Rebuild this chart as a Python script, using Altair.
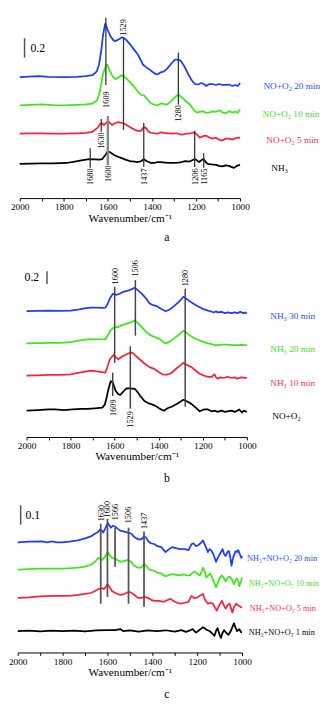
import altair as alt
import pandas as pd

FONT = "Liberation Serif"
BLUE, GREEN, RED, BLACK = "#1f3cff", "#3de81a", "#ff1f3c", "#000000"
LBLUE, LGREEN, LRED = "#2a4bff", "#3be01f", "#ff2b4a"
TICKS = list(range(1000, 2001, 100))

# ---------------- panel a (relative absorbance, wavenumber) ----------------
A_BLUE = [(2000, 0), (1960, 0.005), (1913, 0.01), (1870, 0.003), (1800, 0), (1740, 0.003), (1700, 0.01),
          (1670, 0.02), (1650, 0.06), (1640, 0.13), (1630, 0.27), (1622, 0.43), (1612, 0.55), (1600, 0.48),
          (1588, 0.42), (1575, 0.38), (1566, 0.37), (1550, 0.39), (1534, 0.41), (1520, 0.39), (1500, 0.34),
          (1480, 0.28), (1463, 0.23), (1441, 0.13), (1425, 0.10), (1412, 0.08), (1395, 0.05), (1382, 0.03),
          (1370, 0.035), (1360, 0.05), (1345, 0.06), (1330, 0.09), (1308, 0.15), (1295, 0.18), (1283, 0.18),
          (1270, 0.17), (1255, 0.12), (1235, 0.03), (1220, -0.03), (1205, -0.07), (1190, -0.075), (1176, -0.06),
          (1165, -0.07), (1153, -0.09), (1140, -0.07), (1124, -0.07), (1110, -0.08), (1094, -0.07), (1080, -0.08),
          (1065, -0.08), (1050, -0.075), (1035, -0.09), (1020, -0.08), (1010, -0.09), (1000, -0.06)]
A_GREEN = [(2000, 0), (1950, 0.005), (1900, 0.01), (1850, 0.003), (1800, 0), (1740, 0.005), (1700, 0.01),
           (1670, 0.02), (1650, 0.05), (1640, 0.11), (1630, 0.22), (1622, 0.32), (1610, 0.40), (1603, 0.42),
           (1592, 0.36), (1581, 0.31), (1566, 0.27), (1550, 0.29), (1537, 0.31), (1522, 0.29), (1500, 0.24),
           (1480, 0.19), (1463, 0.14), (1450, 0.11), (1434, 0.10), (1420, 0.06), (1404, 0.02), (1390, 0.01),
           (1375, 0.0), (1360, 0.02), (1353, 0.02), (1340, 0.01), (1331, 0.01), (1315, 0.04), (1301, 0.07),
           (1288, 0.10), (1279, 0.11), (1268, 0.09), (1257, 0.07), (1240, 0.03), (1227, 0.01), (1212, -0.04),
           (1198, -0.07), (1183, -0.065), (1168, -0.06), (1155, -0.075), (1139, -0.07), (1125, -0.06),
           (1110, -0.065), (1094, -0.05), (1080, -0.07), (1065, -0.08), (1050, -0.06), (1035, -0.07),
           (1020, -0.065), (1010, -0.075), (1000, -0.04)]
A_RED = [(2000, 0), (1950, 0.003), (1900, 0.005), (1850, 0), (1800, 0), (1740, 0.005), (1700, 0.01), (1670, 0.02),
         (1647, 0.06), (1635, 0.10), (1628, 0.11), (1618, 0.09), (1608, 0.11), (1599, 0.13), (1590, 0.11),
         (1581, 0.09), (1566, 0.11), (1552, 0.12), (1535, 0.11), (1522, 0.10), (1508, 0.08), (1493, 0.06),
         (1478, 0.04), (1463, 0.03), (1448, 0.03), (1437, 0.07), (1428, 0.06), (1415, 0.02), (1404, 0.01),
         (1390, 0.005), (1375, 0.0), (1360, 0.015), (1345, 0.01), (1325, 0.005), (1308, 0.0), (1290, 0.005),
         (1275, -0.005), (1264, -0.01), (1245, 0.0), (1225, 0.005), (1209, 0.015), (1195, -0.01), (1183, -0.04),
         (1168, -0.025), (1153, -0.02), (1138, -0.04), (1124, -0.05), (1110, -0.04), (1095, -0.06), (1080, -0.07),
         (1065, -0.05), (1050, -0.05), (1035, -0.06), (1020, -0.045), (1000, -0.04)]
A_BLACK = [(2000, 0), (1950, 0.003), (1900, 0.005), (1850, 0.005), (1788, 0.01), (1750, 0.025), (1714, 0.04),
           (1684, 0.05), (1660, 0.048), (1640, 0.045), (1625, 0.05), (1612, 0.09), (1600, 0.13), (1590, 0.12),
           (1570, 0.09), (1550, 0.07), (1537, 0.06), (1520, 0.045), (1500, 0.03), (1480, 0.025), (1463, 0.02),
           (1448, 0.03), (1437, 0.05), (1425, 0.03), (1404, 0.01), (1390, 0.01), (1375, 0.02), (1360, 0.02),
           (1340, 0.015), (1320, 0.01), (1301, 0.01), (1280, 0.015), (1265, 0.02), (1249, 0.03), (1230, 0.025),
           (1215, 0.04), (1206, 0.05), (1195, 0.035), (1186, 0.02), (1175, 0.04), (1166, 0.05), (1156, 0.02),
           (1146, 0.0), (1130, -0.005), (1109, -0.01), (1095, -0.02), (1080, -0.025), (1065, -0.015),
           (1050, -0.02), (1040, -0.03), (1028, -0.04), (1015, -0.02), (1000, -0.01)]
A_OFFSETS = [1.24, 0.95, 0.66, 0.35]
A_NAMES = ["NO+O₂ 20 min", "NO+O₂ 10 min", "NO+O₂ 5 min", "NH₃"]
A_NAME_X = [894, 898, 881, 858]
A_NAME_Y = [1.15, 0.86, 0.59, 0.31]
A_PEAKS = ["1609", "1529", "1280", "1630", "1600", "1680", "1437", "1206", "1165"]
A_PEAK_TOP = [1.85, 1.64, 1.49, 0.81, 0.84, 0.51, 0.77, 0.69, 0.46]
A_PEAK_BOTTOM = [1.16, 0.70, 0.96, 0.68, 0.34, 0.31, 0.32, 0.32, 0.31]
A_PEAK_LABEL_Y = [1.01, 1.75, 0.87, 0.59, 0.25, 0.22, 0.22, 0.22, 0.22]
A_PEAK_W = [1.3, 1.3, 1.3, 1.3, 2.5, 1.3, 1.3, 1.3, 1.3]
A_PEAK_C = ["#333333", "#333333", "#333333", "#333333", "#888888", "#333333", "#333333", "#333333", "#333333"]

# ---------------- panel b ----------------
B_BLUE = [(2000, 0), (1950, 0.005), (1900, 0.01), (1850, 0.005), (1800, 0.01), (1760, 0.03), (1730, 0.05),
          (1708, 0.06), (1680, 0.06), (1660, 0.055), (1642, 0.06), (1632, 0.12), (1622, 0.21), (1608, 0.29),
          (1593, 0.27), (1578, 0.29), (1561, 0.32), (1540, 0.34), (1520, 0.37), (1509, 0.39), (1495, 0.35),
          (1480, 0.30), (1472, 0.27), (1455, 0.20), (1442, 0.13), (1425, 0.10), (1406, 0.08), (1390, 0.04),
          (1369, 0.0), (1350, 0.03), (1332, 0.08), (1310, 0.15), (1288, 0.24), (1272, 0.20), (1258, 0.16),
          (1240, 0.12), (1221, 0.08), (1200, 0.04), (1177, 0.01), (1165, 0.0), (1150, -0.02), (1140, 0.0),
          (1133, -0.02), (1115, -0.01), (1100, -0.03), (1088, -0.02), (1070, -0.03), (1055, -0.02),
          (1044, -0.03), (1030, -0.01), (1015, -0.03), (1007, -0.02), (1000, -0.04)]
B_GREEN = [(2000, 0), (1950, 0.005), (1900, 0.01), (1850, 0.01), (1800, 0.02), (1760, 0.05), (1715, 0.07),
           (1680, 0.065), (1642, 0.07), (1632, 0.13), (1620, 0.21), (1602, 0.27), (1585, 0.27), (1561, 0.31),
           (1540, 0.33), (1520, 0.36), (1509, 0.38), (1495, 0.34), (1472, 0.25), (1455, 0.18), (1435, 0.13),
           (1415, 0.10), (1398, 0.08), (1385, 0.04), (1369, 0.0), (1350, 0.03), (1332, 0.08), (1310, 0.14),
           (1288, 0.21), (1272, 0.17), (1258, 0.13), (1240, 0.09), (1221, 0.06), (1200, 0.03), (1177, 0.0),
           (1160, -0.01), (1145, -0.03), (1133, -0.03), (1110, -0.02), (1088, -0.02), (1065, -0.03),
           (1044, -0.03), (1025, -0.025), (1007, -0.03), (1000, -0.03)]
B_RED = [(2000, 0), (1950, 0.005), (1900, 0.01), (1850, 0.01), (1800, 0.02), (1760, 0.05), (1708, 0.08),
         (1680, 0.07), (1642, 0.05), (1632, 0.15), (1622, 0.27), (1605, 0.34), (1594, 0.30), (1583, 0.27),
         (1568, 0.31), (1553, 0.34), (1535, 0.37), (1520, 0.38), (1505, 0.33), (1487, 0.27), (1465, 0.20),
         (1442, 0.14), (1420, 0.11), (1400, 0.06), (1384, 0.02), (1365, 0.015), (1347, 0.03), (1325, 0.10),
         (1305, 0.16), (1288, 0.21), (1270, 0.17), (1251, 0.14), (1232, 0.08), (1214, 0.03), (1195, 0.0),
         (1177, -0.02), (1160, -0.02), (1147, 0.02), (1140, -0.03), (1133, -0.05), (1120, -0.03), (1105, -0.04),
         (1088, -0.02), (1070, -0.04), (1055, -0.03), (1044, -0.05), (1025, -0.03), (1007, -0.04), (1000, -0.04)]
B_BLACK = [(2000, 0), (1950, 0.01), (1900, 0.02), (1870, 0.02), (1830, 0.01), (1790, 0.02), (1750, 0.03),
           (1723, 0.03), (1690, 0.04), (1656, 0.05), (1645, 0.10), (1637, 0.21), (1628, 0.36), (1618, 0.49),
           (1608, 0.46), (1597, 0.34), (1586, 0.28), (1575, 0.26), (1560, 0.32), (1546, 0.37), (1531, 0.37),
           (1509, 0.36), (1501, 0.33), (1485, 0.25), (1465, 0.16), (1445, 0.12), (1428, 0.10), (1410, 0.07),
           (1395, 0.03), (1376, 0.0), (1360, 0.04), (1339, 0.07), (1315, 0.12), (1288, 0.18), (1270, 0.15),
           (1251, 0.11), (1232, 0.05), (1214, -0.01), (1195, 0.02), (1177, 0.02), (1160, -0.01), (1145, 0.0),
           (1133, -0.02), (1115, 0.0), (1100, -0.02), (1088, -0.01), (1070, 0.0), (1055, -0.02), (1044, 0.0),
           (1035, 0.02), (1022, -0.03), (1015, 0.0), (1007, -0.01), (1000, -0.02)]
B_OFFSETS = [2.08, 1.548, 1.016, 0.435]
B_NAMES = ["NH₃ 30 min", "NH₃ 20 min", "NH₃ 10 min", "NO+O₂"]
B_NAME_X = [894, 894, 894, 885]
B_NAME_Y = [2.0, 1.452, 0.887, 0.339]
B_PEAKS = ["1600", "1506", "1280", "1609", "1529"]
B_PEAK_TOP = [2.484, 2.597, 2.452, 1.065, 1.5]
B_PEAK_BOTTOM = [1.226, 1.677, 0.5, 0.677, 0.468]
B_PEAK_LABEL_Y = [2.661, 2.79, 2.629, 0.484, 0.29]
B_PEAK_W = [1.5, 1.5, 1.5, 1.5, 1.5]
B_PEAK_C = ["#444444"] * 5

# ---------------- panel c ----------------
C_BLUE = [(2000, 0), (1950, 0.003), (1891, 0.005), (1870, 0.0), (1848, 0.005), (1825, 0.0), (1804, 0.0),
          (1770, 0.003), (1732, 0.01), (1700, 0.02), (1674, 0.03), (1655, 0.045), (1645, 0.05), (1633, 0.065),
          (1625, 0.06), (1619, 0.05), (1610, 0.07), (1599, 0.10), (1590, 0.085), (1584, 0.075), (1575, 0.085),
          (1565, 0.08), (1555, 0.07), (1543, 0.06), (1525, 0.055), (1507, 0.05), (1495, 0.045), (1483, 0.03),
          (1471, 0.02), (1460, 0.015), (1449, 0.015), (1437, 0.03), (1428, 0.025), (1418, 0.005), (1406, -0.005),
          (1390, -0.01), (1377, -0.02), (1360, -0.025), (1341, -0.05), (1325, -0.035), (1312, -0.025),
          (1295, -0.03), (1275, -0.035), (1255, -0.035), (1239, -0.04), (1225, -0.01), (1217, -0.005),
          (1205, -0.02), (1196, -0.015), (1185, -0.005), (1174, 0.01), (1163, -0.02), (1152, -0.05),
          (1145, -0.035), (1138, -0.04), (1128, -0.06), (1116, -0.10), (1108, -0.08), (1101, -0.065),
          (1094, -0.05), (1087, -0.035), (1080, -0.06), (1073, -0.07), (1065, -0.05), (1058, -0.045),
          (1052, -0.08), (1047, -0.12), (1040, -0.08), (1029, -0.045), (1022, -0.05), (1017, -0.04),
          (1010, -0.06), (1003, -0.08), (1000, -0.07)]
C_GREEN = [(2000, 0), (1950, 0.003), (1900, 0.005), (1848, 0.005), (1800, 0.005), (1760, 0.008), (1732, 0.01),
           (1700, 0.015), (1674, 0.025), (1655, 0.04), (1642, 0.06), (1632, 0.055), (1623, 0.05), (1612, 0.065),
           (1599, 0.09), (1588, 0.07), (1580, 0.06), (1565, 0.055), (1543, 0.04), (1525, 0.045), (1507, 0.05),
           (1495, 0.04), (1480, 0.02), (1464, 0.01), (1450, 0.01), (1437, 0.03), (1428, 0.02), (1413, 0.0),
           (1395, -0.005), (1377, -0.015), (1360, -0.02), (1341, -0.035), (1320, -0.025), (1304, -0.025),
           (1280, -0.03), (1261, -0.025), (1245, -0.03), (1232, -0.03), (1220, -0.015), (1210, -0.01),
           (1200, -0.02), (1188, -0.03), (1180, -0.01), (1174, 0.01), (1166, -0.01), (1159, -0.04),
           (1150, -0.03), (1142, -0.02), (1130, -0.05), (1116, -0.09), (1105, -0.06), (1098, -0.04),
           (1090, -0.03), (1080, -0.045), (1073, -0.06), (1063, -0.04), (1055, -0.035), (1045, -0.05),
           (1036, -0.075), (1028, -0.05), (1022, -0.045), (1017, -0.06), (1012, -0.085), (1005, -0.06),
           (1000, -0.04)]
C_RED = [(2000, 0), (1950, 0.003), (1900, 0.008), (1848, 0.01), (1800, 0.01), (1760, 0.012), (1732, 0.015),
         (1700, 0.02), (1674, 0.025), (1655, 0.035), (1642, 0.045), (1623, 0.05), (1616, 0.045), (1608, 0.055),
         (1599, 0.07), (1590, 0.055), (1580, 0.035), (1565, 0.025), (1543, 0.015), (1525, 0.02), (1507, 0.03),
         (1500, 0.03), (1485, 0.02), (1464, 0.0), (1450, 0.0), (1435, 0.005), (1420, 0.0), (1405, -0.01),
         (1391, -0.015), (1370, -0.015), (1348, -0.02), (1330, -0.01), (1319, -0.005), (1300, -0.02),
         (1275, -0.03), (1255, -0.025), (1239, -0.02), (1230, 0.0), (1225, 0.01), (1215, 0.0), (1203, 0.0),
         (1190, 0.01), (1174, 0.02), (1165, -0.01), (1152, -0.03), (1140, -0.025), (1130, -0.03), (1120, -0.05),
         (1113, -0.065), (1102, -0.04), (1090, -0.015), (1080, -0.04), (1073, -0.055), (1063, -0.035),
         (1055, -0.03), (1050, -0.05), (1043, -0.075), (1035, -0.045), (1026, -0.03), (1015, -0.04),
         (1007, -0.045), (1000, -0.05)]
C_BLACK = [(2000, 0), (1950, 0.002), (1900, -0.002), (1850, 0.002), (1800, 0.0), (1750, 0.002), (1700, -0.002),
           (1650, 0.003), (1600, 0.005), (1565, 0.005), (1543, 0.01), (1530, 0.0), (1500, 0.003), (1460, -0.003),
           (1420, 0.003), (1380, 0.0), (1340, 0.004), (1300, -0.003), (1270, 0.005), (1250, -0.004),
           (1232, 0.003), (1220, 0.01), (1205, -0.008), (1190, 0.005), (1174, 0.02), (1160, 0.008), (1145, 0.0),
           (1135, -0.01), (1123, -0.025), (1116, 0.0), (1109, 0.015), (1100, -0.02), (1094, -0.035),
           (1087, -0.01), (1080, 0.005), (1070, -0.01), (1061, -0.02), (1050, 0.0), (1043, 0.02), (1036, 0.04),
           (1030, 0.02), (1022, 0.0), (1012, 0.01), (1005, -0.005), (1000, -0.005)]
C_OFFSETS = [0.565, 0.425, 0.28, 0.11]
C_NAMES = ["NH₃+NO+O₂ 20 min", "NH₃+NO+O₂ 10 min", "NH₃+NO+O₂ 5 min", "NH₃+NO+O₂ 1 min"]
C_NAME_X = [978, 970, 965, 970]
C_NAME_Y = [0.485, 0.355, 0.23, 0.105]
C_PEAKS = ["1630", "1600", "1566", "1506", "1437"]
C_PEAK_TOP = [0.66, 0.685, 0.64, 0.64, 0.62]
C_PEAK_BOTTOM = [0.25, 0.285, 0.44, 0.25, 0.235]
C_PEAK_LABEL_Y = [0.715, 0.735, 0.72, 0.705, 0.675]
C_PEAK_W = [1.8] * 5
C_PEAK_C = ["#555555"] * 5

LINE_COLORS = [BLUE, GREEN, RED, BLACK]
LABEL_COLORS = [LBLUE, LGREEN, LRED, BLACK]

AXIS = alt.Axis(values=TICKS, format="d",
                labelExpr="datum.value % 200 === 0 ? datum.label : ''",
                title="Wavenumber/cm⁻¹", grid=False, tickSize=3, labelOverlap=False,
                labelFlush=False)


def panel(series, offsets, names, name_x, name_y, peaks, top, bottom, label_y, pw, pc,
          bar, letter, rng, ppu, height, name_size):
    xs = alt.Scale(domain=[2000, 1000], range=rng, nice=False, zero=False)
    ys = alt.Scale(domain=[0, height / ppu], nice=False, zero=False)
    X = alt.X("wn:Q", scale=xs, axis=AXIS)
    Y = alt.Y("v:Q", scale=ys, axis=None)

    rows = []
    for pts, off, col in zip(series, offsets, LINE_COLORS):
        for wn, val in pts:
            rows.append({"wn": wn, "v": val + off, "color": col})
    spectra = alt.Chart(pd.DataFrame(rows)).mark_line(strokeWidth=1.8, strokeJoin="round").encode(
        x=X, y=Y, color=alt.Color("color:N", scale=None), detail="color:N")

    pk = pd.DataFrame({"wn": [int(p) for p in peaks], "v": top, "v2": bottom,
                       "ly": label_y, "t": peaks, "w": pw, "c": pc})
    rules = alt.Chart(pk).mark_rule().encode(
        x=X, y=Y, y2="v2:Q", color=alt.Color("c:N", scale=None),
        strokeWidth=alt.StrokeWidth("w:Q", scale=None))
    ptext = alt.Chart(pk).mark_text(angle=270, font=FONT, fontSize=8.5, align="center",
                                    baseline="middle", color="black").encode(
        x=X, y=alt.Y("ly:Q", scale=ys, axis=None), text="t:N")

    nm = pd.DataFrame({"wn": name_x, "v": name_y, "t": names, "color": LABEL_COLORS})
    ntext = alt.Chart(nm).mark_text(align="left", baseline="middle", font=FONT,
                                    fontSize=name_size).encode(
        x=X, y=Y, text="t:N", color=alt.Color("color:N", scale=None))

    bx, b1, b2, tx, ty, tt = bar
    bar_df = pd.DataFrame({"wn": [bx], "v": [b1], "v2": [b2]})
    bar_rule = alt.Chart(bar_df).mark_rule(color="#555555", strokeWidth=1.5).encode(
        x=X, y=Y, y2="v2:Q")
    bar_text = alt.Chart(pd.DataFrame({"wn": [tx], "v": [ty], "t": [tt]})).mark_text(
        align="left", baseline="middle", font=FONT, fontSize=12, color="black").encode(
        x=X, y=Y, text="t:N")

    lx, ly, lt = letter
    let = alt.Chart(pd.DataFrame({"wn": [lx], "v": [ly], "t": [lt]})).mark_text(
        align="center", baseline="middle", font=FONT, fontSize=12, color="black").encode(
        x=X, y=Y, text="t:N")

    return alt.layer(spectra, rules, ptext, ntext, bar_rule, bar_text, let).properties(
        width=240, height=height)


pa = panel([A_BLUE, A_GREEN, A_RED, A_BLACK], A_OFFSETS, A_NAMES, A_NAME_X, A_NAME_Y,
           A_PEAKS, A_PEAK_TOP, A_PEAK_BOTTOM, A_PEAK_LABEL_Y, A_PEAK_W, A_PEAK_C,
           (1978, 1.64, 1.44, 1951, 1.54, "0.2"), (1332, -0.40, "a"),
           [4, 230], 100, 186, 9.5)
pb = panel([B_BLUE, B_GREEN, B_RED, B_BLACK], B_OFFSETS, B_NAMES, B_NAME_X, B_NAME_Y,
           B_PEAKS, B_PEAK_TOP, B_PEAK_BOTTOM, B_PEAK_LABEL_Y, B_PEAK_W, B_PEAK_C,
           (1907, 2.74, 2.53, 2009, 2.645, "0.2"), (1363, -0.677, "b"),
           [11, 237], 62, 245, 9.5)
pc = panel([C_BLUE, C_GREEN, C_RED, C_BLACK], C_OFFSETS, C_NAMES, C_NAME_X, C_NAME_Y,
           C_PEAKS, C_PEAK_TOP, C_PEAK_BOTTOM, C_PEAK_LABEL_Y, C_PEAK_W, C_PEAK_C,
           (1987, 0.755, 0.655, 1965, 0.705, "0.1"), (1335, -0.215, "c"),
           [2, 232], 200, 221, 8.5)

chart = alt.vconcat(pa, pb, pc, spacing=0, bounds="flush").properties(
    padding=0, background="white"
).configure_view(stroke=None).configure_axis(
    labelFont=FONT, labelFontSize=9.5, labelColor="black", labelPadding=1,
    titleFont=FONT, titleFontSize=11.5, titleFontWeight="normal", titleColor="black",
    titlePadding=1, domainColor="black", tickColor="black", domainWidth=1
)

chart.save("out.html", embed_options={"renderer": "svg", "actions": False})
